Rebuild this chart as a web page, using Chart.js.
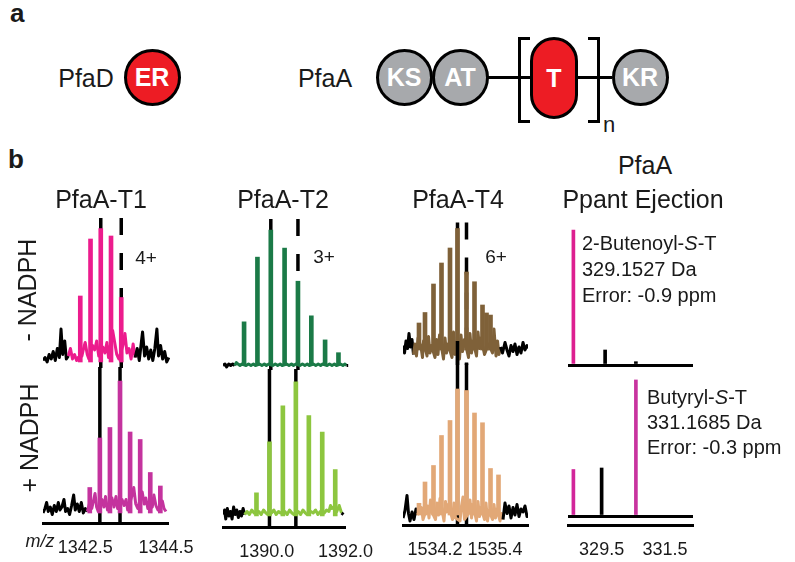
<!DOCTYPE html>
<html>
<head>
<meta charset="utf-8">
<script src="https://cdn.jsdelivr.net/npm/chart.js@4.4.1/dist/chart.umd.min.js"></script>
<style>
body{margin:0;background:#fff}
#fig{position:relative;width:795px;height:562px;overflow:hidden;font-family:"Liberation Sans",Arial,sans-serif;color:#1a1a1a}
#fig canvas{position:absolute;z-index:1}
.t{position:absolute;line-height:1;white-space:nowrap;z-index:2}
.c{transform:translate(-50%,-50%)}
.dom{position:absolute;box-sizing:border-box;border:3px solid #000;border-radius:50%;width:57px;height:57px;top:48.5px;background:#a7a9ac;color:#fff;font-weight:bold;font-size:25px;display:flex;align-items:center;justify-content:center}
.red{background:#ed1c24}
.bar{position:absolute;background:#000;height:3px;top:75.5px}
.brk{position:absolute;box-sizing:border-box;top:37px;width:12px;height:86px;border:3px solid #000}
</style>
</head>
<body>
<div id="fig">
  <!-- panel a -->
  <div class="t" style="left:10px;top:0px;font-size:26px;font-weight:bold">a</div>
  <div class="t c" style="left:86px;top:78px;font-size:25px">PfaD</div>
  <div class="dom red" style="left:123.5px">ER</div>
  <div class="t c" style="left:325px;top:78px;font-size:25px">PfaA</div>
  <div class="bar" style="left:488px;width:42px"></div>
  <div class="bar" style="left:578px;width:34px"></div>
  <div class="dom" style="left:375.5px">KS</div>
  <div class="dom" style="left:431.5px">AT</div>
  <div class="brk" style="left:518px;border-right:none"></div>
  <div class="brk" style="left:588px;border-left:none"></div>
  <div class="dom red" style="left:530px;top:37px;width:48px;height:82px;border-radius:24px">T</div>
  <div class="dom" style="left:611.5px">KR</div>
  <div class="t" style="left:603px;top:114px;font-size:22px">n</div>

  <!-- panel b -->
  <div class="t" style="left:8px;top:146px;font-size:26px;font-weight:bold">b</div>
  <div class="t c" style="left:101px;top:199px;font-size:25px">PfaA-T1</div>
  <div class="t c" style="left:283px;top:199px;font-size:25px">PfaA-T2</div>
  <div class="t c" style="left:458px;top:199px;font-size:25px">PfaA-T4</div>
  <div class="t c" style="left:645px;top:165px;font-size:25px">PfaA</div>
  <div class="t c" style="left:643px;top:199px;font-size:25px">Ppant Ejection</div>
  <div class="t" style="left:27px;top:290px;font-size:25px;transform:translate(-50%,-50%) rotate(-90deg)">- NADPH</div>
  <div class="t" style="left:29px;top:438px;font-size:25px;transform:translate(-50%,-50%) rotate(-90deg)">+ NADPH</div>
  <div class="t c" style="left:146px;top:257px;font-size:19px">4+</div>
  <div class="t c" style="left:324px;top:256px;font-size:19px">3+</div>
  <div class="t c" style="left:496px;top:256px;font-size:19px">6+</div>
  <div class="t c" style="left:40px;top:541px;font-size:18px;font-style:italic">m/z</div>
  <div class="t" style="left:582px;top:230px;font-size:20px;line-height:26px">2-Butenoyl-<i>S</i>-T<br>329.1527 Da<br>Error: -0.9 ppm</div>
  <div class="t" style="left:647px;top:385px;font-size:20px;line-height:25px">Butyryl-<i>S</i>-T<br>331.1685 Da<br>Error: -0.3 ppm</div>
</div>

<script>
// ---- data (m/z, relative intensity) ----
const t1Mz      = [1342.36, 1342.61, 1342.86, 1343.11, 1343.36, 1343.61, 1343.86, 1344.11, 1344.36];
const t1Minus   = [44, 82, 89, 84, 43, null, null, null, null];
const t1Plus    = [null, 17, 50, 57, 88, 54, 49, 27, 18];
const t1Marks   = [1342.86, 1343.36];
const t1Ticks   = [1342.5, 1344.5];

const t2Mz      = [1389.41, 1389.74, 1390.07, 1390.41, 1390.74, 1391.07, 1391.41, 1391.74];
const t2Minus   = [29, 72, 90, 78, 56, 33, 17, 8.5];
const t2Plus    = [null, 15.5, 49.5, 73.5, 89.5, 67, 56, 31];
const t2Marks   = [1390.07, 1390.74];
const t2Ticks   = [1390.0, 1392.0];

const t4Mz      = [1533.88, 1534.00, 1534.17, 1534.33, 1534.50, 1534.65, 1534.83, 1534.99, 1535.15, 1535.23, 1535.31, 1535.47];
const t4Minus   = [18, 25, 44, 58, 68, 81, 52, 45.5, 30, 24.7, 23.3, null];
const t4Plus    = [7.8, 22, 33, 53, 63, 84, 83, 68, 61.5, null, 31, 26.7];
const t4Marks   = [1534.65, 1534.83];
const t4Ticks   = [1534.2, 1535.4];

const ppMinusMz = [328.61, 329.61, 330.58];
const ppMinus   = [90, 10, 2.2];
const ppPlusMz  = [328.61, 329.50, 330.58];
const ppPlus    = [31, 32, 90.7];
const ppTicks   = [329.5, 331.5];

// baseline noise traces
const t1MinusNoise = [[1341.45,1],[1341.50,3],[1341.55,0],[1341.60,5],[1341.65,2],[1341.70,7],[1341.75,1],[1341.80,9],[1341.85,3],[1341.89,22],[1341.93,5],[1341.98,14],[1342.02,2],[1342.07,4],[1342.12,9],[1342.17,2],[1342.22,5],[1342.27,1],[1342.31,3],[1342.40,4],[1342.44,9],[1342.48,13],[1342.53,5],[1342.57,2],[1342.66,11],[1342.71,8],[1342.76,14],[1342.81,4],[1342.91,10],[1342.96,6],[1343.01,13],[1343.05,3],[1343.15,21],[1343.20,13],[1343.25,5],[1343.30,2],[1343.40,11],[1343.45,19],[1343.50,6],[1343.55,9],[1343.60,2],[1343.65,12],[1343.70,3],[1343.75,9],[1343.80,1],[1343.85,13],[1343.88,20],[1343.93,4],[1343.98,10],[1344.03,2],[1344.08,8],[1344.13,1],[1344.18,9],[1344.23,22],[1344.27,4],[1344.32,11],[1344.37,2],[1344.42,7],[1344.47,0],[1344.52,3]];
const t1PlusNoise = [[1341.45,0],[1341.50,3],[1341.54,7],[1341.58,1],[1341.63,4],[1341.68,-1],[1341.73,5],[1341.78,1],[1341.83,7],[1341.87,2],[1341.92,4],[1341.97,9],[1342.01,1],[1342.06,3],[1342.11,-1],[1342.16,5],[1342.21,12],[1342.25,2],[1342.30,6],[1342.35,1],[1342.40,7],[1342.45,0],[1342.50,3],[1342.55,1],[1342.60,6],[1342.66,3],[1342.70,8],[1342.74,13],[1342.78,4],[1342.82,1],[1342.91,9],[1342.96,4],[1343.00,11],[1343.05,2],[1343.16,10],[1343.21,4],[1343.26,11],[1343.30,3],[1343.41,9],[1343.46,5],[1343.51,9],[1343.55,2],[1343.66,12],[1343.70,17],[1343.75,6],[1343.80,3],[1343.91,14],[1343.96,6],[1344.00,10],[1344.05,3],[1344.16,4],[1344.20,12],[1344.25,5],[1344.30,2],[1344.41,8],[1344.45,3],[1344.50,1]];
const t2MinusNoise = [[1388.89,0],[1388.94,1],[1388.98,-1],[1389.03,1],[1389.08,0],[1389.13,1],[1389.18,0],[1389.22,2],[1389.26,1],[1389.31,0],[1389.36,1],[1389.46,0],[1389.52,1],[1389.58,0],[1389.64,1],[1389.69,0],[1389.79,1],[1389.85,0],[1389.91,1],[1389.96,0],[1390.02,1],[1390.12,0],[1390.18,1],[1390.24,0],[1390.30,1],[1390.35,0],[1390.46,1],[1390.52,0],[1390.58,1],[1390.63,0],[1390.69,1],[1390.79,0],[1390.85,1],[1390.91,0],[1390.97,1],[1391.02,0],[1391.12,1],[1391.18,0],[1391.24,1],[1391.30,0],[1391.35,1],[1391.46,0],[1391.52,1],[1391.58,0],[1391.64,1],[1391.69,0],[1391.79,1],[1391.85,0],[1391.90,1],[1391.94,0],[1391.98,0]];
const t2PlusNoise = [[1388.89,1],[1388.93,4],[1388.96,-2],[1389.00,5],[1389.04,0],[1389.08,3],[1389.12,-2],[1389.16,6],[1389.20,1],[1389.24,4],[1389.28,-1],[1389.32,3],[1389.36,0],[1389.40,5],[1389.44,1],[1389.50,3],[1389.56,1],[1389.62,4],[1389.68,2],[1389.80,3],[1389.86,1],[1389.92,4],[1389.98,2],[1390.02,1],[1390.12,2],[1390.18,4],[1390.24,1],[1390.30,3],[1390.35,2],[1390.46,3],[1390.52,1],[1390.58,4],[1390.64,2],[1390.69,1],[1390.80,3],[1390.86,1],[1390.92,4],[1390.98,2],[1391.02,1],[1391.12,3],[1391.18,2],[1391.24,4],[1391.30,1],[1391.36,3],[1391.46,2],[1391.52,4],[1391.58,3],[1391.62,7],[1391.66,5],[1391.70,6],[1391.78,3],[1391.84,7],[1391.90,2],[1391.95,1]];
const t4MinusNoise = [[1533.56,3],[1533.59,-2],[1533.62,6],[1533.65,1],[1533.68,11],[1533.71,2],[1533.74,7],[1533.77,-3],[1533.80,4],[1533.83,-4],[1533.86,8],[1533.92,2],[1533.95,-5],[1533.97,6],[1534.04,-4],[1534.07,9],[1534.10,-2],[1534.13,3],[1534.20,-5],[1534.23,7],[1534.26,-3],[1534.29,10],[1534.37,-6],[1534.40,8],[1534.43,-2],[1534.46,4],[1534.54,-5],[1534.57,12],[1534.60,-3],[1534.62,5],[1534.69,-6],[1534.72,10],[1534.75,-1],[1534.79,7],[1534.87,-5],[1534.90,11],[1534.93,-2],[1534.96,6],[1535.03,-4],[1535.06,12],[1535.09,1],[1535.12,8],[1535.19,-3],[1535.27,4],[1535.35,-2],[1535.38,14],[1535.42,-4],[1535.45,6],[1535.48,-3],[1535.51,2],[1535.55,-2],[1535.60,5],[1535.64,0],[1535.68,-4],[1535.72,3],[1535.76,-1],[1535.80,4],[1535.84,-3],[1535.88,2],[1535.92,-2],[1535.96,5],[1536.00,0],[1536.04,3],[1536.06,1]];
const t4PlusNoise = [[1533.56,-2],[1533.60,3],[1533.64,13],[1533.67,1],[1533.70,-4],[1533.74,2],[1533.78,-3],[1533.82,4],[1533.85,0],[1533.93,5],[1533.96,-3],[1534.05,6],[1534.08,-2],[1534.11,10],[1534.14,2],[1534.21,-3],[1534.24,8],[1534.27,0],[1534.30,11],[1534.38,-4],[1534.41,9],[1534.44,2],[1534.47,7],[1534.55,-3],[1534.58,8],[1534.61,-2],[1534.70,-4],[1534.73,6],[1534.76,12],[1534.79,-3],[1534.87,1],[1534.90,10],[1534.93,-2],[1534.96,7],[1535.03,-4],[1535.06,9],[1535.09,-1],[1535.12,5],[1535.19,-3],[1535.22,8],[1535.25,-4],[1535.28,3],[1535.35,-3],[1535.38,7],[1535.41,-2],[1535.44,4],[1535.50,-4],[1535.53,1],[1535.56,-3],[1535.60,8],[1535.64,1],[1535.68,6],[1535.72,-2],[1535.76,5],[1535.80,0],[1535.84,7],[1535.88,-1],[1535.92,4],[1535.96,2],[1536.00,6],[1536.04,-1],[1536.06,1]];

// ---- drawing ----
const PX = 1.5;          // pixels per intensity unit
const SIDE = 30;         // room for tick labels
const FONT = '"Liberation Sans", Arial, sans-serif';
const fig = document.getElementById('fig');

function spectrum(g, p) {
  const areaW = Math.round((g.xMax - g.xMin) * g.pxPerMz);
  const areaH = Math.round((g.yMax - g.yMin) * PX);
  const axisH = g.ticks ? 30 : 0;
  const cv = document.createElement('canvas');
  cv.width = areaW + 2 * SIDE;
  cv.height = areaH + axisH;
  cv.style.left = (g.left - SIDE) + 'px';
  cv.style.top = Math.round(g.base - g.yMax * PX) + 'px';
  fig.appendChild(cv);

  const ds = [];
  (p.marks || []).forEach((x, i) => ds.push({
    type: 'line', order: 3, pointRadius: 0, borderColor: '#000', borderWidth: 3.5,
    borderDash: (p.dashed && i === 1) ? [17, 18] : [],
    data: [{x: x, y: p.markTop[i]}, {x: x, y: g.yMin}]
  }));
  if (p.noise) ds.push({
    type: 'line', order: 2, pointRadius: 0, borderWidth: 3, borderJoinStyle: 'round', tension: 0,
    borderColor: p.color,
    data: p.noise.map(d => ({x: d[0], y: d[1]})),
    segment: { borderColor: c => {
      const m = (c.p0.parsed.x + c.p1.parsed.x) / 2;
      return (m >= p.from && m <= p.to) ? p.color : '#000';
    } }
  });
  const pk = [], cols = [];
  p.mz.forEach((x, i) => {
    if (p.y[i] == null) return;
    pk.push({x: x, y: p.y[i]});
    cols.push(p.colors ? p.colors[i] : p.color);
  });
  ds.push({ type: 'bar', order: 1, data: pk, backgroundColor: cols, barThickness: p.barW || 4 });

  new Chart(cv, {
    type: 'line',
    data: { datasets: ds },
    options: {
      responsive: false, animation: false, events: [],
      layout: { padding: { left: SIDE, right: SIDE, top: 0, bottom: 0 } },
      plugins: { legend: { display: false }, tooltip: { enabled: false } },
      scales: {
        x: {
          type: 'linear', min: g.xMin, max: g.xMax, offset: false,
          display: !!g.ticks,
          grid: { display: false, offset: false },
          border: { display: true, color: '#000', width: 3 },
          afterBuildTicks: s => { if (g.ticks) s.ticks = g.ticks.map(v => ({value: v})); },
          afterFit: s => { s.height = axisH; },
          ticks: { padding: 6, color: '#1a1a1a', font: { family: FONT, size: 18 },
                   maxRotation: 0, autoSkip: false, callback: v => v.toFixed(1) }
        },
        y: {
          min: g.yMin, max: g.yMax,
          display: !!g.zeroLine,
          border: { display: false },
          grid: { color: '#000', lineWidth: 3, drawTicks: false },
          ticks: { display: false },
          afterBuildTicks: s => { s.ticks = [{value: 0}]; },
          afterFit: s => { s.width = 0; }
        }
      }
    }
  });
}

const T1 = { left: 43, pxPerMz: 41, xMin: 1341.45, xMax: 1344.55 };
const T2 = { left: 223, pxPerMz: 40.45, xMin: 1388.89, xMax: 1392.0 };
const T4 = { left: 403, pxPerMz: 50, xMin: 1533.56, xMax: 1536.06 };
const PP = { left: 568, pxPerMz: 31.7, xMin: 328.44, xMax: 332.38 };

// PfaA-T1
spectrum({...T1, base: 362, yMin: -4, yMax: 100},
  { mz: t1Mz, y: t1Minus, noise: t1MinusNoise, color: '#ec1c8d', from: 1342.07, to: 1343.70,
    marks: t1Marks, markTop: [96, 96], dashed: true });
spectrum({...T1, base: 513, yMin: -6.67, yMax: 98, ticks: t1Ticks},
  { mz: t1Mz, y: t1Plus, noise: t1PlusNoise, color: '#c4339e', from: 1342.55, to: 1344.55,
    marks: t1Marks, markTop: [97.3, 97.3] });

// PfaA-T2
spectrum({...T2, base: 365, yMin: -3, yMax: 100},
  { mz: t2Mz, y: t2Minus, noise: t2MinusNoise, color: '#1b7a47', from: 1389.19, to: 1391.92,
    marks: t2Marks, markTop: [97.3, 97.3], dashed: true });
spectrum({...T2, base: 516, yMin: -7.33, yMax: 98, ticks: t2Ticks},
  { mz: t2Mz, y: t2Plus, noise: t2PlusNoise, color: '#8dc63f', from: 1389.43, to: 1391.92,
    marks: t2Marks, markTop: [98, 98] });

// PfaA-T4
spectrum({...T4, base: 350, yMin: -10, yMax: 92},
  { mz: t4Mz, y: t4Minus, noise: t4MinusNoise, color: '#7f6139', from: 1533.76, to: 1535.50,
    marks: t4Marks, markTop: [85, 85], dashed: true });
spectrum({...T4, base: 515, yMin: -6.67, yMax: 118, ticks: t4Ticks},
  { mz: t4Mz, y: t4Plus, noise: t4PlusNoise, color: '#e2a877', from: 1533.84, to: 1535.56,
    marks: t4Marks, markTop: [116, 101] });

// Ppant ejection
spectrum({...PP, base: 365, yMin: -2, yMax: 92, zeroLine: true},
  { mz: ppMinusMz, y: ppMinus, colors: ['#dd1f90', '#000', '#000'], barW: 3 });
spectrum({...PP, base: 516, yMin: -6, yMax: 92, zeroLine: true, ticks: ppTicks},
  { mz: ppPlusMz, y: ppPlus, colors: ['#d2269a', '#000', '#c8339f'], barW: 3 });
</script>
</body>
</html>
